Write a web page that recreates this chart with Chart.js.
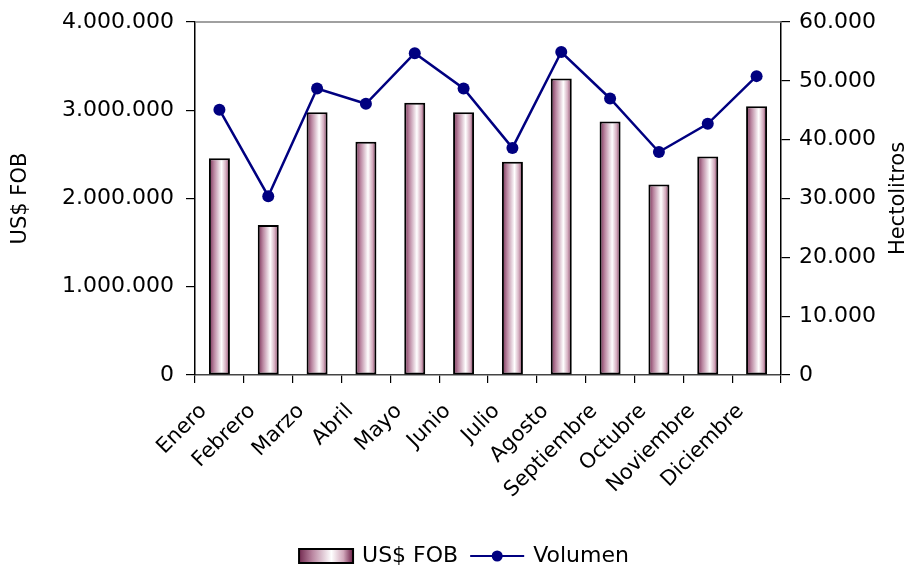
<!DOCTYPE html>
<html>
<head>
<meta charset="utf-8">
<script src="https://cdn.jsdelivr.net/npm/chart.js@4"></script>
<style>
html,body{margin:0;padding:0;background:#fff;}
#wrap{width:915px;height:566px;position:relative;}
</style>
</head>
<body>
<div id="wrap"><canvas id="c" width="915" height="566"></canvas></div>
<script>
const months = ['Enero','Febrero','Marzo','Abril','Mayo','Junio','Julio','Agosto','Septiembre','Octubre','Noviembre','Diciembre'];
const usdFob = [2455000, 1700000, 2978000, 2642000, 3084000, 2978000, 2416000, 3360000, 2873000, 2160000, 2477000, 3046000];
const volumen = [45100, 30400, 48700, 46100, 54700, 48700, 38600, 54900, 47000, 37900, 42700, 50800];
const leftTicks = [0, 1000000, 2000000, 3000000, 4000000];
const rightTicks = [0, 10000, 20000, 30000, 40000, 50000, 60000];
const seriesNames = ['US$ FOB', 'Volumen'];
const axisTitles = ['US$ FOB', 'Hectolitros'];

const FONT = 'DejaVu Sans';
const fmt = v => String(v).replace(/\B(?=(\d{3})+(?!\d))/g, '.');
const BAR_PCT = 0.43;
const NAVY = '#000080';

function barGradient(ctx2d, x0, x1) {
  const g = ctx2d.createLinearGradient(x0, 0, x1, 0);
  g.addColorStop(0, '#732a50');
  g.addColorStop(0.25, '#bb88a2');
  g.addColorStop(0.6, '#ffffff');
  g.addColorStop(0.82, '#d2a9bc');
  g.addColorStop(1, '#6a1c44');
  return g;
}

const decor = {
  id: 'decor',
  afterDraw(chart) {
    const {ctx, chartArea} = chart;
    ctx.save();
    ctx.strokeStyle = '#808080';
    ctx.lineWidth = 1.5;
    ctx.beginPath();
    ctx.moveTo(chartArea.left, chartArea.top);
    ctx.lineTo(chartArea.right, chartArea.top);
    ctx.stroke();
    ctx.restore();

    const cy = (chartArea.top + chartArea.bottom) / 2;
    [[axisTitles[0], 21], [axisTitles[1], 899]].forEach(([t, x]) => {
      ctx.save();
      ctx.fillStyle = '#000';
      ctx.font = '21px "' + FONT + '"';
      ctx.textAlign = 'center';
      ctx.textBaseline = 'middle';
      ctx.translate(x, cy);
      ctx.rotate(-Math.PI / 2);
      ctx.fillText(t, 0, 0);
      ctx.restore();
    });

    // legend
    ctx.save();
    ctx.font = '22px "' + FONT + '"';
    ctx.textBaseline = 'middle';
    ctx.fillStyle = '#000';
    const w1 = ctx.measureText(seriesNames[0]).width;
    const w2 = ctx.measureText(seriesNames[1]).width;
    const boxW = 54, lineW = 54;
    const total = boxW + 9 + w1 + 12 + lineW + 9 + w2;
    let x = 464 - total / 2;
    const y = 556;
    ctx.fillStyle = barGradient(ctx, x, x + boxW);
    ctx.fillRect(x, y - 7, boxW, 14);
    ctx.strokeStyle = '#000'; ctx.lineWidth = 2;
    ctx.strokeRect(x, y - 7, boxW, 14);
    x += boxW + 9;
    ctx.fillStyle = '#000';
    ctx.fillText(seriesNames[0], x, y);
    x += w1 + 12;
    ctx.strokeStyle = NAVY; ctx.lineWidth = 2;
    ctx.beginPath(); ctx.moveTo(x, y); ctx.lineTo(x + lineW, y); ctx.stroke();
    ctx.fillStyle = NAVY;
    ctx.beginPath(); ctx.arc(x + lineW / 2, y, 5.5, 0, Math.PI * 2); ctx.fill();
    x += lineW + 9;
    ctx.fillStyle = '#000';
    ctx.fillText(seriesNames[1], x, y);
    ctx.restore();
  }
};

function fitY(w) {
  return (s) => { s.width = w; s.paddingTop = 0; s.paddingBottom = 0; };
}

new Chart(document.getElementById('c'), {
  type: 'bar',
  data: {
    labels: months,
    datasets: [
      {
        type: 'line',
        label: seriesNames[1],
        data: volumen,
        yAxisID: 'y1',
        borderColor: NAVY,
        backgroundColor: NAVY,
        borderWidth: 2.5,
        pointRadius: 6,
        pointBackgroundColor: NAVY,
        pointBorderWidth: 0,
        tension: 0,
        order: 0
      },
      {
        type: 'bar',
        label: seriesNames[0],
        data: usdFob,
        yAxisID: 'y',
        borderColor: '#000',
        borderWidth: 2,
        borderSkipped: false,
        categoryPercentage: 1,
        barPercentage: BAR_PCT,
        order: 1,
        backgroundColor: (c) => {
          const chart = c.chart;
          const xs = chart.scales && chart.scales.x;
          if (!xs || c.type !== 'data' || !chart.chartArea) return '#b07090';
          const cx = xs.getPixelForValue(c.dataIndex);
          const w = xs.width / months.length * BAR_PCT;
          return barGradient(chart.ctx, cx - w / 2, cx + w / 2);
        }
      }
    ]
  },
  options: {
    responsive: false,
    animation: false,
    devicePixelRatio: 1,
    layout: {padding: {top: 22, left: 0, right: 0, bottom: 0}},
    plugins: {
      tooltip: {enabled: false},
      legend: {display: false}
    },
    scales: {
      x: {
        offset: true,
        afterFit: (s) => { s.height = 191; s.paddingLeft = 0; s.paddingRight = 0; },
        grid: {display: true, drawOnChartArea: false, drawTicks: true, tickLength: 8, color: '#000', lineWidth: 1.2, offset: true},
        border: {display: true, color: '#444', width: 1.5},
        ticks: {
          color: '#000', font: {family: FONT, size: 21},
          maxRotation: 45, minRotation: 45, autoSkip: false,
          labelOffset: -16, padding: 16
        }
      },
      y: {
        position: 'left',
        min: 0, max: 4000000,
        afterFit: fitY(195),
        afterBuildTicks: (s) => { s.ticks = leftTicks.map(v => ({value: v})); },
        grid: {display: true, drawOnChartArea: false, drawTicks: true, tickLength: 9, color: '#000', lineWidth: 1.2},
        border: {display: true, color: '#000', width: 1.5},
        ticks: {color: '#000', font: {family: FONT, size: 22}, padding: 12, callback: v => fmt(v)}
      },
      y1: {
        position: 'right',
        min: 0, max: 60000,
        afterFit: fitY(134),
        afterBuildTicks: (s) => { s.ticks = rightTicks.map(v => ({value: v})); },
        grid: {display: true, drawOnChartArea: false, drawTicks: true, tickLength: 9, color: '#000', lineWidth: 1.2},
        border: {display: true, color: '#000', width: 1.5},
        ticks: {color: '#000', font: {family: FONT, size: 22}, padding: 9, callback: v => fmt(v)}
      }
    }
  },
  plugins: [decor]
});
</script>
</body>
</html>
